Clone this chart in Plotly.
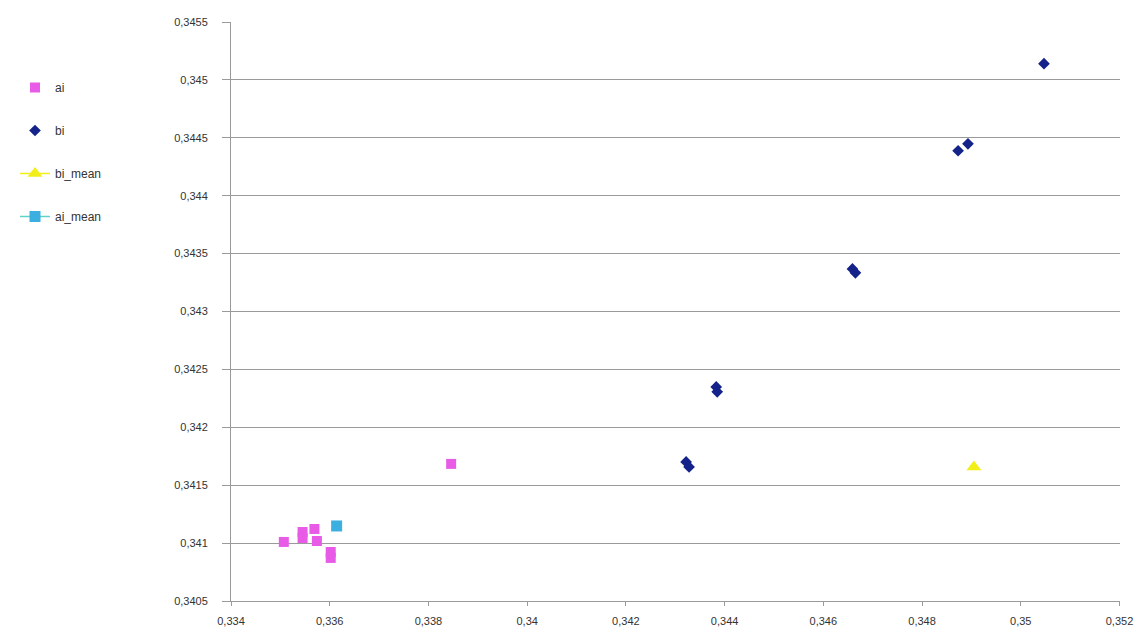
import plotly.graph_objects as go

# ── Data ─────────────────────────────────────────────────────────────────────
ai_x = [0.33507, 0.33545, 0.33545, 0.33569, 0.33574, 0.33602, 0.33602, 0.33846]
ai_y = [0.34101, 0.341096, 0.341044, 0.341122, 0.341018, 0.340923, 0.340872, 0.341684]

bi_x = [0.34322, 0.34328, 0.34383, 0.34385, 0.34659, 0.34665, 0.34873, 0.34893, 0.35047]
bi_y = [0.341701, 0.341658, 0.342349, 0.342306, 0.343368, 0.343334, 0.344388, 0.344448, 0.34514]

bi_mean_x = [0.34905]
bi_mean_y = [0.341658]

ai_mean_x = [0.33614]
ai_mean_y = [0.341148]

# ── Styling ──────────────────────────────────────────────────────────────────
PINK   = "#E85BE6"
NAVY   = "#14238A"
YELLOW = "#F2EE1A"
CYAN   = "#3AAFE0"
GRID   = "#9A9A9A"
TEXT   = "#333333"
FONT   = "Liberation Sans, Arial, sans-serif"

fig = go.Figure()

fig.add_trace(go.Scatter(
    x=ai_x, y=ai_y, name="ai", mode="markers", legendgroup="ai",
    marker=dict(symbol="square", size=10, color=PINK),
))
fig.add_trace(go.Scatter(
    x=bi_x, y=bi_y, name="bi", mode="markers", legendgroup="bi",
    marker=dict(symbol="diamond", size=9, color=NAVY),
))
fig.add_trace(go.Scatter(
    x=bi_mean_x, y=bi_mean_y, name="bi_mean", mode="lines+markers", legendgroup="bim",
    line=dict(color=YELLOW, width=1.5),
    marker=dict(symbol="triangle-up", size=13, color=YELLOW),
))
fig.add_trace(go.Scatter(
    x=ai_mean_x, y=ai_mean_y, name="ai_mean", mode="lines+markers", legendgroup="aim",
    line=dict(color="#5FD3C8", width=1.5),
    marker=dict(symbol="square", size=11, color=CYAN),
))

fig.update_layout(
    width=1134, height=640,
    plot_bgcolor="white", paper_bgcolor="white",
    separators=",.",
    font=dict(family=FONT, size=11, color=TEXT),
    margin=dict(l=231, r=14, t=22, b=39),
    showlegend=True,
    legend=dict(
        x=15 / 1134, y=1 - 73 / 640, xref="container", yref="container",
        xanchor="left", yanchor="top",
        font=dict(family=FONT, size=12, color=TEXT),
        tracegroupgap=24, bgcolor="rgba(0,0,0,0)",
    ),
)

fig.update_xaxes(
    range=[0.334, 0.35201], dtick=0.002, tick0=0.334,
    showgrid=False, zeroline=False, automargin=False,
    showline=True, linecolor=GRID, linewidth=1,
    ticks="outside", ticklen=4, tickcolor=GRID,
    ticklabelstandoff=6, ticklabeloverflow="allow",
    tickfont=dict(family=FONT, size=11, color=TEXT),
)
fig.update_yaxes(
    range=[0.3405, 0.3455], dtick=0.0005, tick0=0.3405,
    showgrid=True, gridcolor=GRID, gridwidth=1, zeroline=False, automargin=False,
    showline=True, linecolor=GRID, linewidth=1,
    ticks="outside", ticklen=8, tickcolor=GRID,
    ticklabelstandoff=12, ticklabeloverflow="allow",
    tickfont=dict(family=FONT, size=11, color=TEXT),
)

# drop the default body margin so the fixed-size figure fills the window exactly
fig.write_html(
    "out.html",
    config={"displayModeBar": False},
    post_script="document.body.style.margin='0px';",
)
